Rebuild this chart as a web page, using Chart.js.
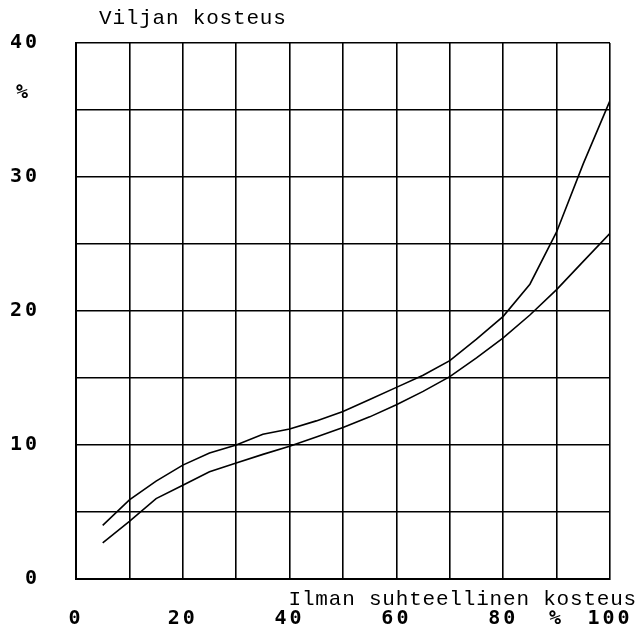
<!DOCTYPE html>
<html>
<head>
<meta charset="utf-8">
<script src="https://cdn.jsdelivr.net/npm/chart.js@4.4.1/dist/chart.umd.min.js"></script>
<style>
  html, body { margin: 0; padding: 0; background: #fff; }
  #wrap { width: 639px; height: 629px; }
</style>
</head>
<body>
<div id="wrap"><canvas id="c" width="639" height="629"></canvas></div>
<script>
// air relative humidity (%)
const rh = [5, 10, 15, 20, 25, 30, 35, 40, 45, 50, 55, 60, 65, 70, 75, 80, 85, 90, 95, 100];
// grain moisture, upper curve
const upper = [4.0, 5.9, 7.3, 8.5, 9.4, 10.0, 10.8, 11.2, 11.8, 12.5, 13.4, 14.3, 15.2, 16.3, 17.9, 19.6, 22.0, 25.9, 31.0, 35.7];
// grain moisture, lower curve
const lower = [2.7, 4.3, 6.0, 7.0, 8.0, 8.65, 9.3, 9.9, 10.6, 11.3, 12.1, 13.0, 14.0, 15.1, 16.5, 18.0, 19.7, 21.6, 23.7, 25.8];

const yTitle = "Viljan kosteus";
const xTitle = "Ilman suhteellinen kosteus";

const pts = (ys) => rh.map((x, i) => ({ x, y: ys[i] }));

const tickFont = { family: "DejaVu Sans Mono", size: 20, weight: "bold" };

// extra texts: axis titles and the "%" under 40
const labelsPlugin = {
  id: "labels",
  beforeDraw(chart) {
    chart.ctx.letterSpacing = "3px";
  },
  afterDraw(chart) {
    const ctx = chart.ctx;
    const { y } = chart.scales;
    ctx.save();
    ctx.letterSpacing = "0.8px";
    ctx.fillStyle = "#000";
    ctx.font = "21px 'Liberation Mono'";
    ctx.textBaseline = "middle";
    ctx.textAlign = "left";
    ctx.fillText(yTitle, 99, 18);
    ctx.textAlign = "right";
    ctx.fillText(xTitle, 637, 599);
    ctx.letterSpacing = "0px";
    ctx.font = "bold 20px 'DejaVu Sans Mono'";
    ctx.textAlign = "center";
    ctx.fillText("%", 22, y.getPixelForValue(36.3));
    ctx.restore();
  }
};

new Chart(document.getElementById("c"), {
  type: "line",
  data: {
    datasets: [
      { data: pts(upper), borderColor: "#000", borderWidth: 1.6, pointRadius: 0, tension: 0, fill: false },
      { data: pts(lower), borderColor: "#000", borderWidth: 1.6, pointRadius: 0, tension: 0, fill: false }
    ]
  },
  options: {
    responsive: false,
    animation: false,
    layout: { padding: { top: 43, right: 29, left: 0, bottom: 0 } },
    plugins: { legend: { display: false }, tooltip: { enabled: false } },
    scales: {
      x: {
        type: "linear",
        min: 0, max: 100,
        afterFit: (s) => { s.height = 50; s.paddingLeft = 0; s.paddingRight = 0; },
        grid: { color: "#000", lineWidth: 1.6, drawTicks: false },
        border: { color: "#000", width: 2 },
        ticks: {
          stepSize: 10,
          autoSkip: false,
          maxRotation: 0,
          padding: 28,
          color: "#000",
          font: tickFont,
          callback: (v) => (v % 20 === 0 ? String(v) : (v === 90 ? "%" : ""))
        }
      },
      y: {
        min: 0, max: 40,
        afterFit: (s) => { s.width = 76; s.paddingTop = 0; s.paddingBottom = 0; },
        grid: { color: "#000", lineWidth: 1.6, drawTicks: false },
        border: { color: "#000", width: 2 },
        ticks: {
          stepSize: 5,
          autoSkip: false,
          padding: 36,
          color: "#000",
          font: tickFont,
          callback: (v) => (v % 10 === 0 ? String(v) : "")
        }
      }
    }
  },
  plugins: [labelsPlugin]
});
</script>
</body>
</html>
